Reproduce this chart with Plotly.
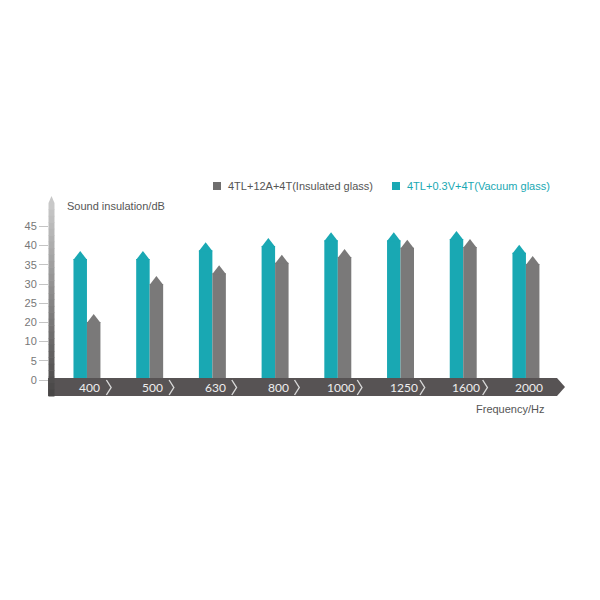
import plotly.graph_objects as go

# ---------------- data ----------------
frequencies = ["400", "500", "630", "800", "1000", "1250", "1600", "2000"]
vacuum_glass = [33.6, 33.6, 35.9, 37.0, 38.5, 38.5, 38.8, 35.2]      # 4TL+0.3V+4T
insulated_glass = [17.2, 27.1, 29.9, 32.6, 34.1, 36.5, 36.7, 32.3]   # 4TL+12A+4T
y_tick_vals = [0, 5, 10, 15, 20, 25, 30, 35, 40]
y_tick_text = ["0", "5", "10", "20", "25", "30", "35", "40", "45"]

name_insulated = "4TL+12A+4T(Insulated glass)"
name_vacuum = "4TL+0.3V+4T(Vacuum glass)"

TEAL = "#19a8b3"
GRAY = "#7a7979"
TEXT = "#555555"

W = H = 600
def px(x):
    return x / W
def py(y):
    return 1 - y / H

# axis geometry (pixels)
PX_PER_UNIT = 3.84
Y0_PIX = 380
ymin = -(H - Y0_PIX) / PX_PER_UNIT
ymax = Y0_PIX / PX_PER_UNIT
x_left, x_right = 55.6, 557.3

bar_w = 0.215
body_cut = 8 / PX_PER_UNIT         # bar body stops below the arrow tip (overlaps head by 1px)
tip_center = 6 / PX_PER_UNIT       # marker center below the tip
idx = list(range(len(frequencies)))

fig = go.Figure()

# bodies of the bars
fig.add_trace(go.Bar(
    x=idx, y=[v - body_cut for v in vacuum_glass], width=bar_w, offset=-bar_w,
    marker=dict(color=TEAL, line=dict(width=0)), name=name_vacuum,
    showlegend=False))
fig.add_trace(go.Bar(
    x=idx, y=[v - body_cut for v in insulated_glass], width=bar_w, offset=0,
    marker=dict(color=GRAY, line=dict(width=0)), name=name_insulated,
    showlegend=False))
# arrow heads
fig.add_trace(go.Scatter(
    x=[i - bar_w / 2 for i in idx], y=[v - tip_center for v in vacuum_glass],
    mode="markers", marker=dict(symbol="triangle-up", size=12, color=TEAL, line=dict(width=0)),
    showlegend=False, hoverinfo="skip"))
fig.add_trace(go.Scatter(
    x=[i + bar_w / 2 for i in idx], y=[v - tip_center for v in insulated_glass],
    mode="markers", marker=dict(symbol="triangle-up", size=12, color=GRAY, line=dict(width=0)),
    showlegend=False, hoverinfo="skip"))

shapes = []
annotations = []

# x axis band with arrow
band = (f"M {px(48)},{py(378)} L {px(557)},{py(378)} L {px(565)},{py(387)} "
        f"L {px(557)},{py(396)} L {px(48)},{py(396)} Z")
shapes.append(dict(type="path", path=band, xref="paper", yref="paper",
                   fillcolor="#575354", line=dict(width=0), layer="above"))

# chevron separators and frequency labels
for i, f in enumerate(frequencies):
    annotations.append(dict(x=i, y=py(387.5), xref="x", yref="paper", text=f,
                            showarrow=False, xshift=3, yanchor="middle",
                            font=dict(family="Lato", size=12, color="#eeeeee")))
    if i < len(frequencies) - 1:
        cx = i + 0.31
        path = (f"M {cx},{py(380)} L {cx + 0.075},{py(387.5)} L {cx},{py(395)}")
        shapes.append(dict(type="path", path=path, xref="x", yref="paper",
                           line=dict(color="#d8d8d8", width=1.4), layer="above"))

# y axis gradient bar with arrow
top, bot = 203, 396
n = 30
c_top, c_bot = (200, 200, 200), (72, 70, 70)
for k in range(n):
    t = k / (n - 1)
    c = tuple(int(c_top[j] + (c_bot[j] - c_top[j]) * t) for j in range(3))
    y_a = top + (bot - top) * k / n
    y_b = top + (bot - top) * (k + 1) / n + 0.5
    shapes.append(dict(type="rect", xref="paper", yref="paper",
                       x0=px(48.5), x1=px(54.5), y0=py(y_b), y1=py(y_a),
                       fillcolor="rgb(%d,%d,%d)" % c, line=dict(width=0), layer="above"))
shapes.append(dict(type="path", xref="paper", yref="paper",
                   path=f"M {px(48.5)},{py(203)} L {px(51.5)},{py(196)} L {px(54.5)},{py(203)} Z",
                   fillcolor="rgb(200,200,200)", line=dict(width=0), layer="above"))

# axis titles
annotations.append(dict(x=px(65), y=py(206), xref="paper", yref="paper",
                        text="Sound insulation/dB", showarrow=False, xanchor="left",
                        yanchor="middle",
                        font=dict(family="Arial", size=11, color=TEXT)))
annotations.append(dict(x=px(546), y=py(409), xref="paper", yref="paper",
                        text="Frequency/Hz", showarrow=False, xanchor="right",
                        yanchor="middle",
                        font=dict(family="Arial", size=11, color=TEXT)))

# legend
shapes.append(dict(type="rect", xref="paper", yref="paper",
                   x0=px(213), x1=px(221), y0=py(190), y1=py(182),
                   fillcolor="#6f6e6e", line=dict(width=0)))
annotations.append(dict(x=px(226), y=py(186), xref="paper", yref="paper",
                        text=name_insulated, showarrow=False, xanchor="left",
                        yanchor="middle",
                        font=dict(family="Arial", size=11, color=TEXT)))
shapes.append(dict(type="rect", xref="paper", yref="paper",
                   x0=px(392), x1=px(400), y0=py(190), y1=py(182),
                   fillcolor=TEAL, line=dict(width=0)))
annotations.append(dict(x=px(405), y=py(186), xref="paper", yref="paper",
                        text=name_vacuum, showarrow=False, xanchor="left",
                        yanchor="middle",
                        font=dict(family="Arial", size=11, color=TEAL)))

fig.update_layout(
    width=W, height=H,
    margin=dict(l=0, r=0, t=0, b=0),
    paper_bgcolor="white", plot_bgcolor="white",
    showlegend=False,
    barmode="overlay",
    xaxis=dict(domain=[px(x_left), px(x_right)], range=[-0.5, len(frequencies) - 0.5],
               visible=False, fixedrange=True),
    yaxis=dict(domain=[0, 1], range=[ymin, ymax], anchor="free", position=px(48),
               tickvals=y_tick_vals, ticktext=y_tick_text, ticks="outside",
               ticklen=9, tickcolor="#c4c4c4", tickwidth=1, showgrid=False,
               zeroline=False, showline=False,
               tickfont=dict(family="Arial", size=11, color="#777777")),
    shapes=shapes,
    annotations=annotations,
)

fig.write_html("out.html")
